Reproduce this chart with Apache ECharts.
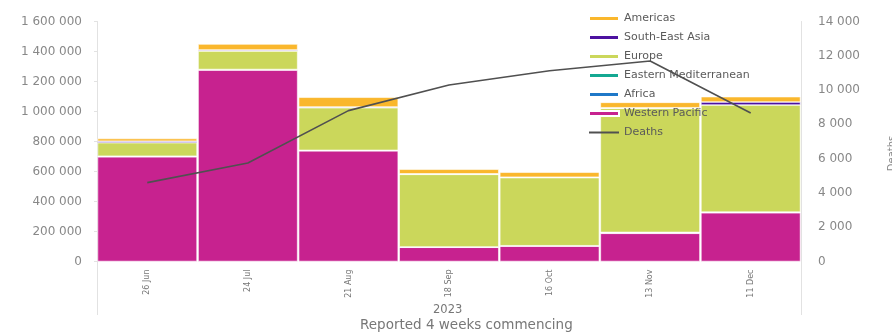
<!DOCTYPE html>
<html>
<head>
<meta charset="utf-8">
<script src="https://cdn.jsdelivr.net/npm/echarts@6/dist/echarts.min.js"></script>
<style>
html,body{margin:0;padding:0;background:#fff;}
#chart{width:892px;height:334px;}
</style>
</head>
<body>
<div id="chart"></div>
<script>
var categories = ['26 Jun', '24 Jul', '21 Aug', '18 Sep', '16 Oct', '13 Nov', '11 Dec'];
var westernPacific = [698000, 1277000, 738000, 95000, 103000, 188000, 325000];
var africa = [2000, 1000, 1000, 1000, 1000, 3000, 2000];
var easternMediterranean = [2000, 2000, 2000, 1000, 1000, 3000, 2000];
var europe = [90000, 123000, 284000, 484000, 454000, 827000, 714000];
var southEastAsia = [10000, 7000, 5000, 3000, 3000, 4000, 20000];
var americas = [18000, 40000, 65000, 31000, 33000, 36000, 36000];
var deaths = [4600, 5750, 8800, 10300, 11130, 11700, 8660];
var yearLabel = '2023';
var xTitle = 'Reported 4 weeks commencing';

var FONT = 'DejaVu Sans';
function fmt(v) { return String(v).replace(/\B(?=(\d{3})+(?!\d))/g, ' '); }

var chart = echarts.init(document.getElementById('chart'));
function barSeries(name, data, color) {
  return {
    name: name, type: 'bar', stack: 'cases', data: data,
    barCategoryGap: '1%',
    itemStyle: { color: color, borderColor: '#ffffff', borderWidth: 0.6 },
    emphasis: { disabled: true }
  };
}
var option = {
  animation: false,
  textStyle: { fontFamily: FONT },
  grid: { left: 97, right: 91, top: 21.5, bottom: 72.5, containLabel: false, outerBoundsMode: 'none' },
  legend: {
    orient: 'vertical', left: 583, top: 7,
    itemWidth: 30, itemHeight: 5, itemGap: 6,
    textStyle: { fontFamily: FONT, fontSize: 11, color: '#5a5a5a', lineHeight: 13 },
    data: [
      { name: 'Americas', icon: 'rect' },
      { name: 'South-East Asia', icon: 'rect' },
      { name: 'Europe', icon: 'rect' },
      { name: 'Eastern Mediterranean', icon: 'rect' },
      { name: 'Africa', icon: 'rect' },
      { name: 'Western Pacific', icon: 'rect' },
      { name: 'Deaths', itemStyle: { opacity: 0 } }
    ]
  },
  xAxis: {
    type: 'category', data: categories,
    axisLine: { show: false }, axisTick: { show: false },
    axisLabel: { rotate: 90, fontSize: 8, color: '#777', margin: 8, fontFamily: FONT }
  },
  yAxis: [
    {
      type: 'value', min: 0, max: 1600000, interval: 200000,
      axisLine: { show: true, lineStyle: { color: '#e2e2e2' } },
      axisTick: { show: true, length: 3, lineStyle: { color: '#e2e2e2' } },
      splitLine: { show: false },
      axisLabel: { fontSize: 12, color: '#888', margin: 15, formatter: fmt, fontFamily: FONT }
    },
    {
      type: 'value', min: 0, max: 14000, interval: 2000, position: 'right',
      axisLine: { show: true, lineStyle: { color: '#e2e2e2' } },
      axisTick: { show: false },
      splitLine: { show: false },
      name: 'Deaths', nameLocation: 'middle', nameRotate: 90, nameGap: 86,
      nameTextStyle: { fontSize: 10, color: '#888', fontFamily: FONT, padding: [0, 0, 0, -24] },
      axisLabel: { fontSize: 12, color: '#888', margin: 17, formatter: fmt, fontFamily: FONT }
    }
  ],
  series: [
    barSeries('Western Pacific', westernPacific, '#c7228f'),
    barSeries('Africa', africa, '#1f78c8'),
    barSeries('Eastern Mediterranean', easternMediterranean, '#14a892'),
    barSeries('Europe', europe, '#cbd75b'),
    barSeries('South-East Asia', southEastAsia, '#4d12a0'),
    barSeries('Americas', americas, '#fab72c'),
    {
      name: 'Deaths', type: 'line', yAxisIndex: 1, data: deaths,
      symbol: 'none', z: 10,
      lineStyle: { color: '#505050', width: 1.6 },
      itemStyle: { color: '#505050' }
    }
  ],
  graphic: [
    { type: 'line', shape: { x1: 97.5, y1: 261.5, x2: 97.5, y2: 315 }, style: { stroke: '#e2e2e2', lineWidth: 1 } },
    { type: 'line', shape: { x1: 801.5, y1: 261.5, x2: 801.5, y2: 315 }, style: { stroke: '#e2e2e2', lineWidth: 1 } },
    { type: 'text', left: 433, top: 304, style: { text: yearLabel, font: '11.5px "DejaVu Sans"', fill: '#777' } },
    { type: 'text', left: 360, top: 318, style: { text: xTitle, font: '13.5px "DejaVu Sans"', fill: '#777' } }
  ]
};
chart.setOption(option);
</script>
</body>
</html>
